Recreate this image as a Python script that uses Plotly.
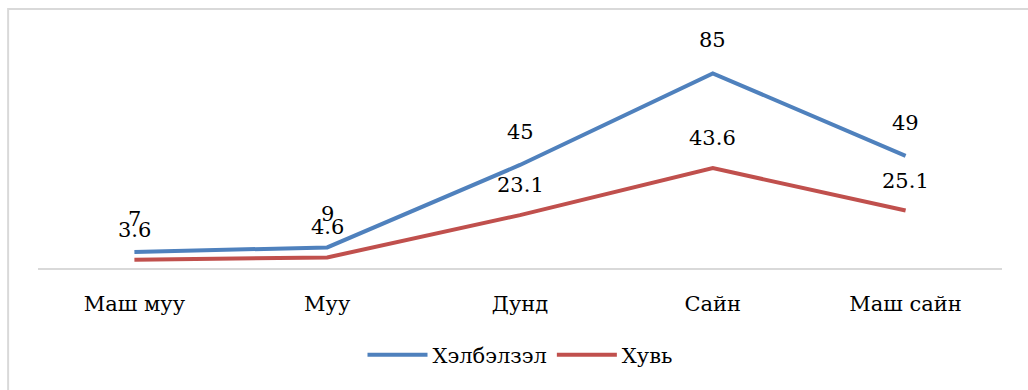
import plotly.graph_objects as go

categories = ["Маш муу", "Муу", "Дунд", "Сайн", "Маш сайн"]
frequency = [7, 9, 45, 85, 49]
percent = [3.6, 4.6, 23.1, 43.6, 25.1]

series = [
    ("Хэлбэлзэл", frequency, "#4F81BD", 33),
    ("Хувь", percent, "#C0504D", 30),
]

FONT = "DejaVu Serif"
SIZE = 21

fig = go.Figure()
annotations = []
for name, vals, color, shift in series:
    fig.add_trace(go.Scatter(
        x=categories, y=vals, name=name, mode="lines",
        line=dict(color=color, width=4),
    ))
    for c, v in zip(categories, vals):
        annotations.append(dict(
            x=c, y=v, text=f"{v:g}", showarrow=False, yshift=shift,
            font=dict(family=FONT, size=SIZE, color="#000000"),
        ))

fig.update_layout(
    width=1028, height=390,
    margin=dict(l=38, r=26, t=39, b=122),
    paper_bgcolor="white", plot_bgcolor="white",
    font=dict(family=FONT, size=SIZE, color="#000000"),
    showlegend=True,
    legend=dict(orientation="h", x=0.5, xanchor="center", y=-0.38, yanchor="middle",
                font=dict(family=FONT, size=SIZE), itemwidth=60, tracegroupgap=0),
    annotations=annotations,
    shapes=[dict(type="rect", xref="paper", yref="paper",
                 x0=-0.031, x1=1.1, y0=-0.6, y1=1.131,
                 line=dict(color="#d9d9d9", width=2))],
)
fig.update_xaxes(
    showline=True, linecolor="#d9d9d9", linewidth=2,
    showgrid=False, ticks="", ticklabelstandoff=16,
    tickfont=dict(family=FONT, size=SIZE), range=[-0.5, 4.5],
)
fig.update_yaxes(
    range=[0, 100], showgrid=False, showticklabels=False, zeroline=False,
    showline=False,
)

fig.write_html("out.html")
